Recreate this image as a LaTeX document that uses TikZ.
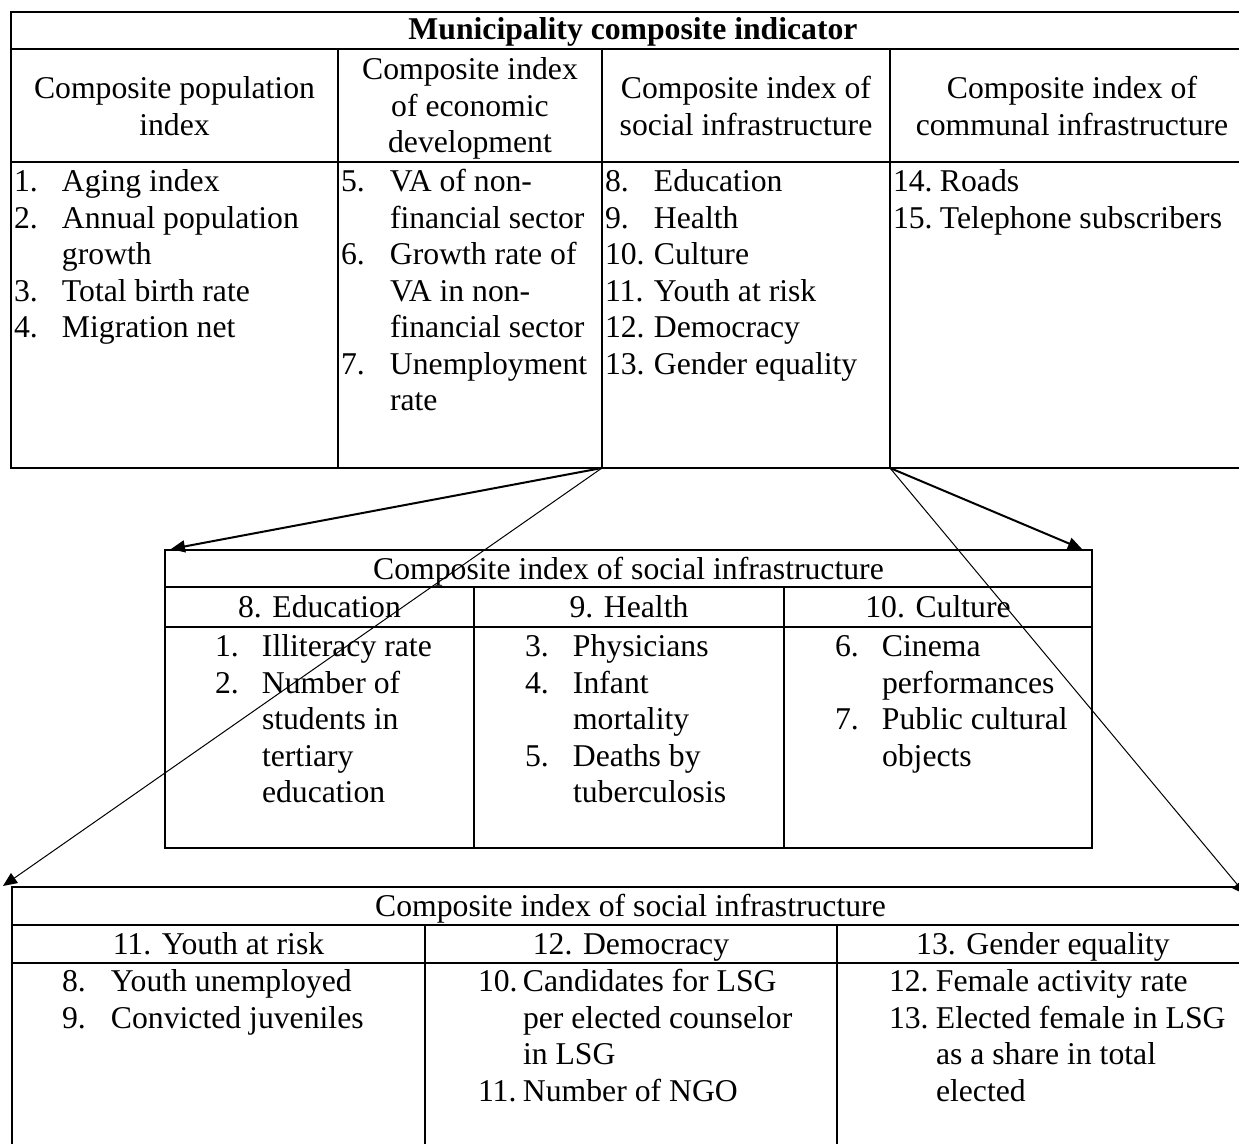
\documentclass[tikz,border=0pt]{standalone}
\usepackage{fontspec}
\setmainfont{Liberation Serif}
\usetikzlibrary{arrows.meta}
\newcommand\lstcell[2]{\begin{tabular}[t]{@{}p{#1}@{}l@{}}#2\end{tabular}}
\newcommand\ctrcell[1]{\begin{tabular}[t]{@{}c@{}}#1\end{tabular}}
\begin{document}
\begin{tikzpicture}[x=0.5pt,y=-0.5pt,
  font=\fontsize{15.85pt}{18.25pt}\selectfont,
  tbl/.style={line width=1pt},
  txt/.style={inner sep=0pt,outer sep=0pt},
  conn/.style={line width=1pt,-{Triangle[length=7pt,width=6pt]}},
  thinconn/.style={line width=0.5pt,-{Triangle[length=7pt,width=6pt]}}]
\useasboundingbox (0,0) rectangle (1239,1144);
\clip (0,0) rectangle (1239,1144);
\fill[white] (0,0) rectangle (1239,1144);

% ---- top table ----
\draw[tbl] (11,12) rectangle (1256,468);
\draw[tbl] (11,49) -- (1256,49) (11,162) -- (1256,162);
\draw[tbl] (338,49) -- (338,468) (602,49) -- (602,468) (890,49) -- (890,468);
\node[txt,anchor=base,font=\fontsize{15.85pt}{18.25pt}\selectfont\bfseries] (ttitle) at (633,40) {Municipality composite indicator};
\node[txt,anchor=base] (th1) at (174.5,99) {\ctrcell{Composite population\\index}};
\node[txt,anchor=base] (th2) at (470,80) {\ctrcell{Composite index\\of economic\\development}};
\node[txt,anchor=base] (th3) at (746,99) {\ctrcell{Composite index of\\social infrastructure}};
\node[txt,anchor=base] (th4) at (1072,99) {\ctrcell{Composite index of\\communal infrastructure}};
\node[txt,anchor=base west] (tb1) at (14,192) {\lstcell{24pt}{1.&Aging index\\2.&Annual population\\&growth\\3.&Total birth rate\\4.&Migration net}};
\node[txt,anchor=base west] (tb2) at (341,192) {\lstcell{24.5pt}{5.&VA of non-\\&financial sector\\6.&Growth rate of\\&VA in non-\\&financial sector\\7.&Unemployment\\&rate}};
\node[txt,anchor=base west] (tb3) at (605,192) {\lstcell{24.5pt}{8.&Education\\9.&Health\\10.&Culture\\11.&Youth at risk\\12.&Democracy\\13.&Gender equality}};
\node[txt,anchor=base west] (tb4) at (893,192) {\lstcell{23.5pt}{14.&Roads\\15.&Telephone subscribers}};

% ---- middle table ----
\draw[tbl] (165,550) rectangle (1092,848);
\draw[tbl] (165,587) -- (1092,587) (165,627) -- (1092,627);
\draw[tbl] (474,587) -- (474,848) (784,587) -- (784,848);
\node[txt,anchor=base] (mtitle) at (628.5,580) {Composite index of social infrastructure};
\node[txt,anchor=base] (mh1) at (319.5,618) {8. Education};
\node[txt,anchor=base] (mh2) at (629,618) {9. Health};
\node[txt,anchor=base] (mh3) at (938,618) {10. Culture};
\node[txt,anchor=base west] (mb1) at (215,657) {\lstcell{23.5pt}{1.&Illiteracy rate\\2.&Number of\\&students in\\&tertiary\\&education}};
\node[txt,anchor=base west] (mb2) at (525,657) {\lstcell{24pt}{3.&Physicians\\4.&Infant\\&mortality\\5.&Deaths by\\&tuberculosis}};
\node[txt,anchor=base west] (mb3) at (835,657) {\lstcell{23.5pt}{6.&Cinema\\&performances\\7.&Public cultural\\&objects}};

% ---- bottom table ----
\draw[tbl] (12,887) rectangle (1262,1175);
\draw[tbl] (12,925) -- (1262,925) (12,963) -- (1262,963);
\draw[tbl] (425,925) -- (425,1175) (837,925) -- (837,1175);
\node[txt,anchor=base] (btitle) at (630.5,917) {Composite index of social infrastructure};
\node[txt,anchor=base] (bh1) at (218.5,955) {11. Youth at risk};
\node[txt,anchor=base] (bh2) at (631,955) {12. Democracy};
\node[txt,anchor=base] (bh3) at (1043,955) {13. Gender equality};
\node[txt,anchor=base west] (bb1) at (62,992) {\lstcell{24.5pt}{8.&Youth unemployed\\9.&Convicted juveniles}};
\node[txt,anchor=base west] (bb2) at (478,992) {\lstcell{22.5pt}{10.&Candidates for LSG\\&per elected counselor\\&in LSG\\11.&Number of NGO}};
\node[txt,anchor=base west] (bb3) at (889,992) {\lstcell{23.5pt}{12.&Female activity rate\\13.&Elected female in LSG\\&as a share in total\\&elected}};

% ---- connectors ----
\coordinate (T3) at (602,468);
\coordinate (T4) at (890,468);
\coordinate (M1) at (171,549);
\coordinate (M2) at (1082,549);
\coordinate (B1) at (3,886);
\coordinate (B2) at (1246,895);
\draw[conn] (T3) -- (M1);
\draw[conn] (T4) -- (M2);
\draw[thinconn] (T3) -- (B1);
\draw[thinconn] (T4) -- (B2);
\end{tikzpicture}
\end{document}
